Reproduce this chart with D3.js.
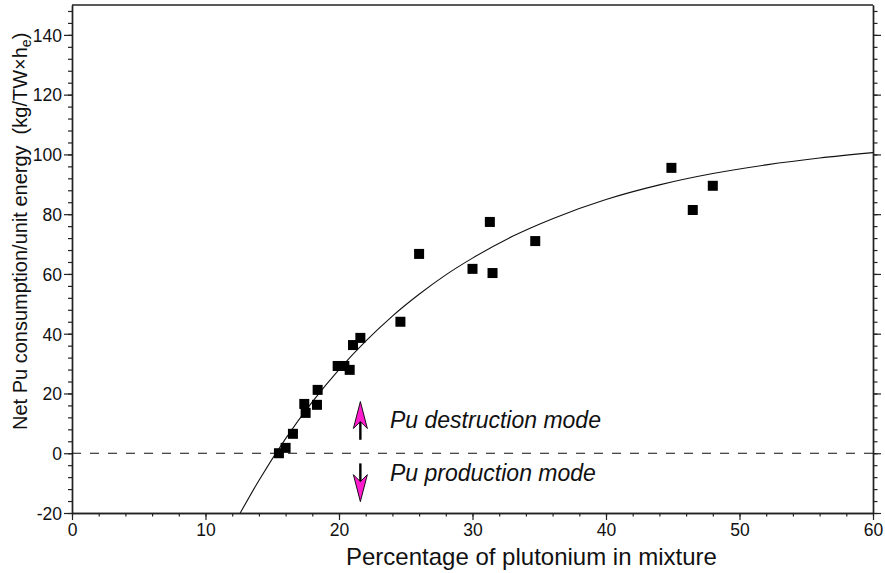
<!DOCTYPE html>
<html>
<head>
<meta charset="utf-8">
<script src="https://cdn.jsdelivr.net/npm/d3@7"></script>
<style>
  html, body { margin: 0; padding: 0; background: #fff; }
  svg { display: block; font-family: "Liberation Sans", Arial, Helvetica, sans-serif; }
</style>
</head>
<body>
<svg id="chart" width="885" height="573"></svg>
<script>
// Plutonium content of the fuel mixture (%) and net Pu consumption (kg/TWh_e)
const puPercent = [15.5, 16.0, 16.55, 17.4, 17.5, 18.4, 18.35, 19.9, 20.4, 20.8, 21.05, 21.6,
                   24.6, 26.0, 30.0, 31.3, 31.5, 34.7, 44.9, 46.5, 48.0];
const puConsumption = [0.0, 1.8, 6.5, 16.5, 13.5, 21.2, 16.2, 29.2, 29.2, 27.9, 36.2, 38.6,
                       44.0, 66.7, 61.7, 77.4, 60.3, 71.0, 95.5, 81.4, 89.5];

// Trend curve through the measurements
const trendX = [12.6, 14, 16, 18, 20, 22, 24, 26, 28, 30, 33, 36, 40, 44, 48, 52, 56, 60];
const trendY = [-20.0, -9.1, 4.9, 17.2, 28.0, 37.5, 45.9, 53.2, 59.7, 65.3, 72.6, 78.5, 84.9,
                89.8, 93.6, 96.5, 98.8, 100.6];

// Axis ticks
const xMajorTicks = [0, 10, 20, 30, 40, 50, 60];
const yMajorTicks = [-20, 0, 20, 40, 60, 80, 100, 120, 140];

// Mode arrows: x position and [from, to] values
const modeArrowX = 21.6;
const destructionArrow = [4.5, 17.3];
const productionArrow = [-3.4, -16.2];
const destructionLabel = "Pu destruction mode";
const productionLabel = "Pu production mode";

const svg = d3.select("#chart");
const plotLeft = 72, plotRight = 873, plotTop = 5, plotBottom = 513;

const x = d3.scaleLinear().domain([0, 60]).range([plotLeft, plotRight]);
const y = d3.scaleLinear().domain([-20, 150]).range([plotBottom, plotTop]);

const axisColor = "#222";
const tickFont = 17.5;
const plainNumber = d => String(d);

const xMinor = d3.range(0, 60.001, 2);
const yMinor = d3.range(-20, 150.001, 4);

function styleAxis(g) {
  g.selectAll("path.domain").attr("stroke", axisColor).attr("stroke-width", 1.4);
  g.selectAll(".tick line").attr("stroke", axisColor).attr("stroke-width", 1.2);
  g.selectAll(".tick text").attr("fill", "#111").style("font-size", tickFont + "px")
    .style("font-family", '"Liberation Sans", Arial, sans-serif');
}

// Minor ticks
svg.append("g").attr("transform", `translate(0,${plotBottom})`)
  .call(d3.axisBottom(x).tickValues(xMinor).tickSize(3.5).tickSizeOuter(0).tickFormat(""))
  .call(styleAxis);
svg.append("g").attr("transform", `translate(${plotLeft},0)`)
  .call(d3.axisLeft(y).tickValues(yMinor).tickSize(4).tickSizeOuter(0).tickFormat(""))
  .call(styleAxis);
svg.append("g").attr("transform", `translate(${plotRight},0)`)
  .call(d3.axisRight(y).tickValues(yMinor).tickSize(4.5).tickSizeOuter(0).tickFormat(""))
  .call(styleAxis);

// Major ticks with labels
svg.append("g").attr("transform", `translate(0,${plotBottom})`)
  .call(d3.axisBottom(x).tickValues(xMajorTicks).tickSize(7).tickSizeOuter(0).tickPadding(4)
    .tickFormat(plainNumber))
  .call(styleAxis);
const yAxis = svg.append("g").attr("transform", `translate(${plotLeft},0)`)
  .call(d3.axisLeft(y).tickValues(yMajorTicks).tickSize(8).tickSizeOuter(0).tickPadding(2)
    .tickFormat(plainNumber))
  .call(styleAxis);
svg.append("g").attr("transform", `translate(${plotRight},0)`)
  .call(d3.axisRight(y).tickValues(yMajorTicks).tickSize(8).tickSizeOuter(0).tickFormat(""))
  .call(styleAxis);
yAxis.selectAll(".tick text").attr("dy", "0.36em");

// Top frame line
svg.append("line")
  .attr("x1", x(0)).attr("x2", x(60)).attr("y1", y(150)).attr("y2", y(150))
  .attr("stroke", axisColor).attr("stroke-width", 1.4);

// Zero reference line
svg.append("line")
  .attr("x1", x(0)).attr("x2", x(60)).attr("y1", y(0)).attr("y2", y(0))
  .attr("stroke", "#111").attr("stroke-width", 1.1).attr("stroke-dasharray", "9,9");

// Clip region for the curve
svg.append("clipPath").attr("id", "plotClip")
  .append("rect").attr("x", plotLeft).attr("y", plotTop)
  .attr("width", plotRight - plotLeft).attr("height", plotBottom - plotTop);

const trend = trendX.map((v, i) => [v, trendY[i]]);
svg.append("path")
  .datum(trend)
  .attr("clip-path", "url(#plotClip)")
  .attr("fill", "none").attr("stroke", "#111").attr("stroke-width", 1.1)
  .attr("d", d3.line().x(d => x(d[0])).y(d => y(d[1])).curve(d3.curveMonotoneX));

// Measurement markers
const pts = puPercent.map((v, i) => [v, puConsumption[i]]);
const sq = 10;
svg.append("g").selectAll("rect").data(pts).join("rect")
  .attr("x", d => x(d[0]) - sq / 2).attr("y", d => y(d[1]) - sq / 2)
  .attr("width", sq).attr("height", sq).attr("fill", "#000");

// Arrows indicating the operating mode
function drawArrow(xv, from, to) {
  const px = x(xv), y0 = y(from), y1 = y(to);
  const dir = y1 < y0 ? -1 : 1; // -1 points up
  const headLen = 27, halfW = 7, notch = 20;
  const g = svg.append("g");
  g.append("line")
    .attr("x1", px).attr("x2", px).attr("y1", y0).attr("y2", y1 - dir * notch)
    .attr("stroke", "#000").attr("stroke-width", 2.4);
  const tipY = y1, baseY = y1 - dir * headLen, notchY = y1 - dir * notch;
  g.append("path")
    .attr("d", `M${px},${tipY} L${px + halfW},${baseY} L${px},${notchY} L${px - halfW},${baseY} Z`)
    .attr("fill", "#ff1ccc").attr("stroke", "#000").attr("stroke-width", 0.9)
    .attr("stroke-linejoin", "miter");
}
drawArrow(modeArrowX, destructionArrow[0], destructionArrow[1]);
drawArrow(modeArrowX, productionArrow[0], productionArrow[1]);

svg.append("text")
  .attr("x", 390).attr("y", 428)
  .style("font-size", "23px").style("font-style", "italic").attr("fill", "#111")
  .text(destructionLabel);
svg.append("text")
  .attr("x", 390).attr("y", 480.5)
  .style("font-size", "23px").style("font-style", "italic").attr("fill", "#111")
  .text(productionLabel);

// Axis titles
svg.append("text")
  .attr("x", 346).attr("y", 565)
  .style("font-size", "24px").attr("fill", "#111")
  .text("Percentage of plutonium in mixture");

const yTitle = svg.append("text")
  .attr("transform", "translate(27,430) rotate(-90)")
  .style("font-size", "20px").attr("fill", "#111")
  .attr("text-anchor", "start");
yTitle.append("tspan").text("Net Pu consumption/unit energy");
yTitle.append("tspan").attr("dx", 11).text("(kg/TW\u00d7h");
yTitle.append("tspan").attr("dy", 4).style("font-size", "14px").text("e");
yTitle.append("tspan").attr("dy", -4).text(")");
</script>
</body>
</html>
